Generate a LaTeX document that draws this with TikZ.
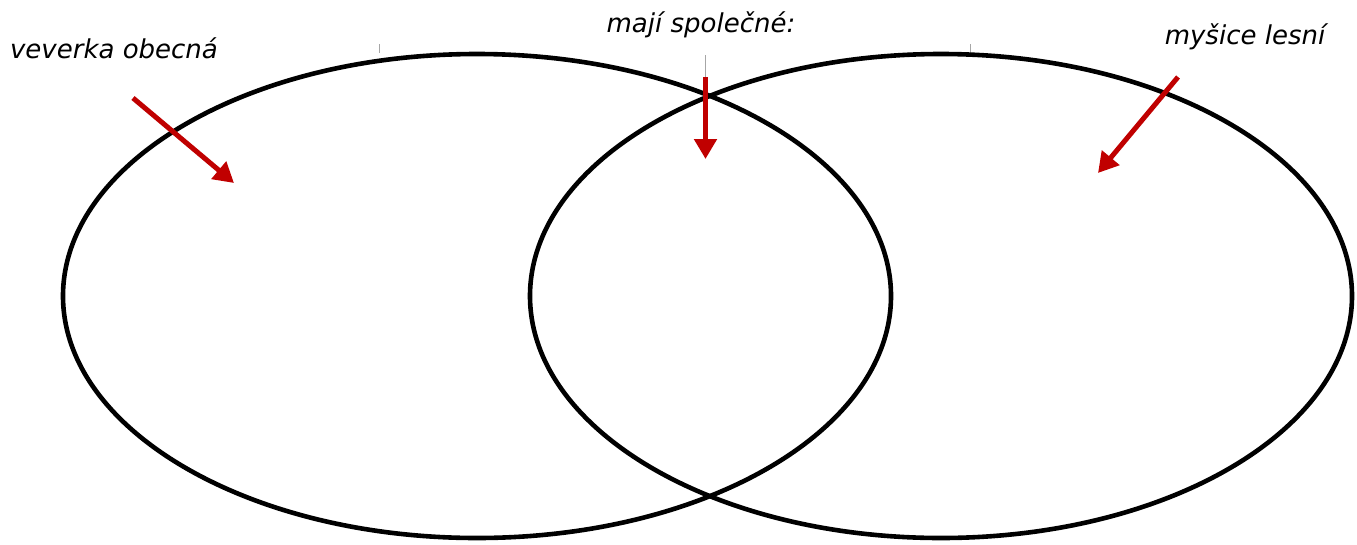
\documentclass[tikz,border=0pt]{standalone}
\usepackage{fontspec}
\setmainfont{DejaVu Sans}
\usetikzlibrary{arrows.meta}
\definecolor{arrred}{RGB}{192,0,0}
\tikzset{
  setline/.style={line width=4.6pt, black},
  redarrow/.style={line width=5pt, arrred, -{Triangle[length=20pt,width=22pt]}},
  lbl/.style={font=\fontsize{26}{30}\selectfont\itshape, inner sep=0pt, anchor=center},
  tick/.style={line width=1pt, black!35}
}
\begin{document}
\begin{tikzpicture}[x=1pt,y=-1pt]
\useasboundingbox (0,0) rectangle (1357,544);
\fill[white] (0,0) rectangle (1357,544);
% faint ticks
\draw[tick] (379,44) -- (379,53);
\draw[tick] (705,55) -- (705,77);
\draw[tick] (970,44) -- (970,53);
% sets
\draw[setline] (477,296) ellipse [x radius=414pt, y radius=242pt];
\draw[setline] (941,296) ellipse [x radius=411pt, y radius=242pt];
% labels
\node[lbl] (veverka) at (114,48) {veverka obecná};
\node[lbl] (spolecne) at (701,25) {mají společné:};
\node[lbl] (mysice) at (1245,37) {myšice lesní};
% arrow endpoints
\coordinate (a1s) at (133,98);
\coordinate (a1e) at (234,183);
\coordinate (a2s) at (705.5,77);
\coordinate (a2e) at (705.5,159);
\coordinate (a3s) at (1178,77);
\coordinate (a3e) at (1098,173);
\draw[redarrow] (a1s) -- (a1e);
\draw[redarrow] (a2s) -- (a2e);
\draw[redarrow] (a3s) -- (a3e);
\end{tikzpicture}
\end{document}
